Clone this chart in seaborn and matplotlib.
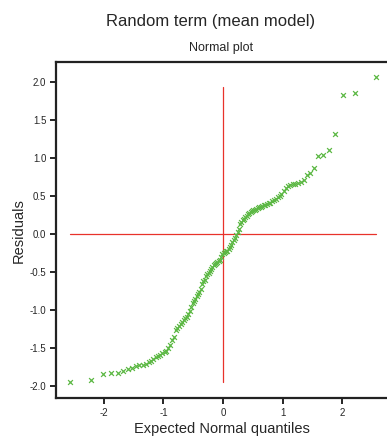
import matplotlib
matplotlib.use("Agg")
import matplotlib.pyplot as plt
import seaborn as sns
import pandas as pd
from matplotlib.ticker import FormatStrFormatter

neg_quantiles = [-2.56, -2.21, -2.02, -1.88, -1.77, -1.68, -1.60, -1.53, -1.46, -1.41,
                 -1.35, -1.30, -1.25, -1.21, -1.17, -1.13, -1.09, -1.05, -1.02, -0.98,
                 -0.95, -0.92, -0.885, -0.855, -0.825, -0.795, -0.77, -0.74, -0.71, -0.685,
                 -0.66, -0.635, -0.61, -0.585, -0.56, -0.535, -0.51, -0.487, -0.464, -0.441,
                 -0.418, -0.396, -0.374, -0.351, -0.33, -0.308, -0.286, -0.264, -0.243, -0.221,
                 -0.20, -0.178, -0.157, -0.136, -0.115, -0.094, -0.073, -0.052, -0.031, -0.01]
pos_quantiles = [0.01, 0.031, 0.052, 0.073, 0.094, 0.115, 0.136, 0.157, 0.178, 0.20,
                 0.221, 0.243, 0.264, 0.286, 0.308, 0.33, 0.351, 0.374, 0.396, 0.418,
                 0.441, 0.464, 0.487, 0.51, 0.535, 0.56, 0.585, 0.61, 0.635, 0.66,
                 0.685, 0.71, 0.74, 0.77, 0.795, 0.825, 0.855, 0.885, 0.92, 0.95,
                 0.98, 1.02, 1.05, 1.09, 1.13, 1.17, 1.21, 1.25, 1.30, 1.35,
                 1.41, 1.46, 1.53, 1.60, 1.68, 1.77, 1.88, 2.02, 2.21, 2.56]

# sorted residuals
neg_residuals = [-1.95, -1.92, -1.84, -1.83, -1.83, -1.80, -1.78, -1.76, -1.74, -1.73,
                 -1.72, -1.71, -1.69, -1.67, -1.64, -1.62, -1.61, -1.59, -1.57, -1.55,
                 -1.54, -1.50, -1.46, -1.40, -1.35, -1.27, -1.24, -1.21, -1.18, -1.16,
                 -1.13, -1.11, -1.09, -1.05, -1.01, -0.96, -0.91, -0.88, -0.85, -0.82,
                 -0.79, -0.76, -0.72, -0.66, -0.62, -0.60, -0.56, -0.53, -0.51, -0.49,
                 -0.46, -0.43, -0.41, -0.39, -0.38, -0.37, -0.36, -0.34, -0.31, -0.27]
pos_residuals = [-0.25, -0.24, -0.23, -0.22, -0.20, -0.17, -0.14, -0.11, -0.08, -0.05,
                 -0.01, 0.03, 0.07, 0.13, 0.15, 0.18, 0.20, 0.22, 0.24, 0.26,
                 0.27, 0.29, 0.30, 0.31, 0.32, 0.33, 0.34, 0.35, 0.36, 0.37,
                 0.38, 0.38, 0.39, 0.40, 0.41, 0.43, 0.44, 0.46, 0.48, 0.50,
                 0.52, 0.57, 0.61, 0.63, 0.64, 0.65, 0.66, 0.67, 0.68, 0.71,
                 0.77, 0.80, 0.86, 1.02, 1.04, 1.10, 1.32, 1.83, 1.85, 2.06]

ref_hline_x = [-2.56, 2.56]
ref_vline_y = [-1.95, 1.93]

df = pd.DataFrame({"quantile": neg_quantiles + pos_quantiles,
                   "residual": neg_residuals + pos_residuals})

sns.set_style("ticks")
plt.rcParams["font.family"] = ["Liberation Sans", "DejaVu Sans"]
plt.rcParams["axes.unicode_minus"] = False

fig = plt.figure(figsize=(3.87, 4.37), dpi=100)
ax = fig.add_axes([0.145, 0.089, 0.855, 0.769])

ax.plot(ref_hline_x, [0, 0], color="#e8322b", lw=0.9, zorder=1)
ax.plot([0, 0], ref_vline_y, color="#e8322b", lw=0.9, zorder=1)

sns.scatterplot(data=df, x="quantile", y="residual", marker="x", color="#5cb844",
                s=12, linewidth=0.9, ax=ax, zorder=2)

ax.set_xlim(-2.8, 2.75)
ax.set_ylim(-2.16, 2.26)
ax.set_xticks([-2, -1, 0, 1, 2])
ax.set_yticks([-2.0, -1.5, -1.0, -0.5, 0.0, 0.5, 1.0, 1.5, 2.0])
ax.yaxis.set_major_formatter(FormatStrFormatter("%.1f"))
ax.tick_params(labelsize=7, length=4, width=1.2, color="black", pad=3)

for side in ["left", "bottom", "top"]:
    ax.spines[side].set_linewidth(1.6)
    ax.spines[side].set_color("#222222")
ax.spines["right"].set_visible(False)

ax.set_xlabel("Expected Normal quantiles", fontsize=10.5, labelpad=3)
ax.set_ylabel("Residuals", fontsize=10.5, labelpad=3)
ax.set_title("Normal plot", fontsize=9, pad=8)
fig.suptitle("Random term (mean model)", fontsize=12, x=0.543, y=0.968)

fig.savefig("out.png", dpi=100)
